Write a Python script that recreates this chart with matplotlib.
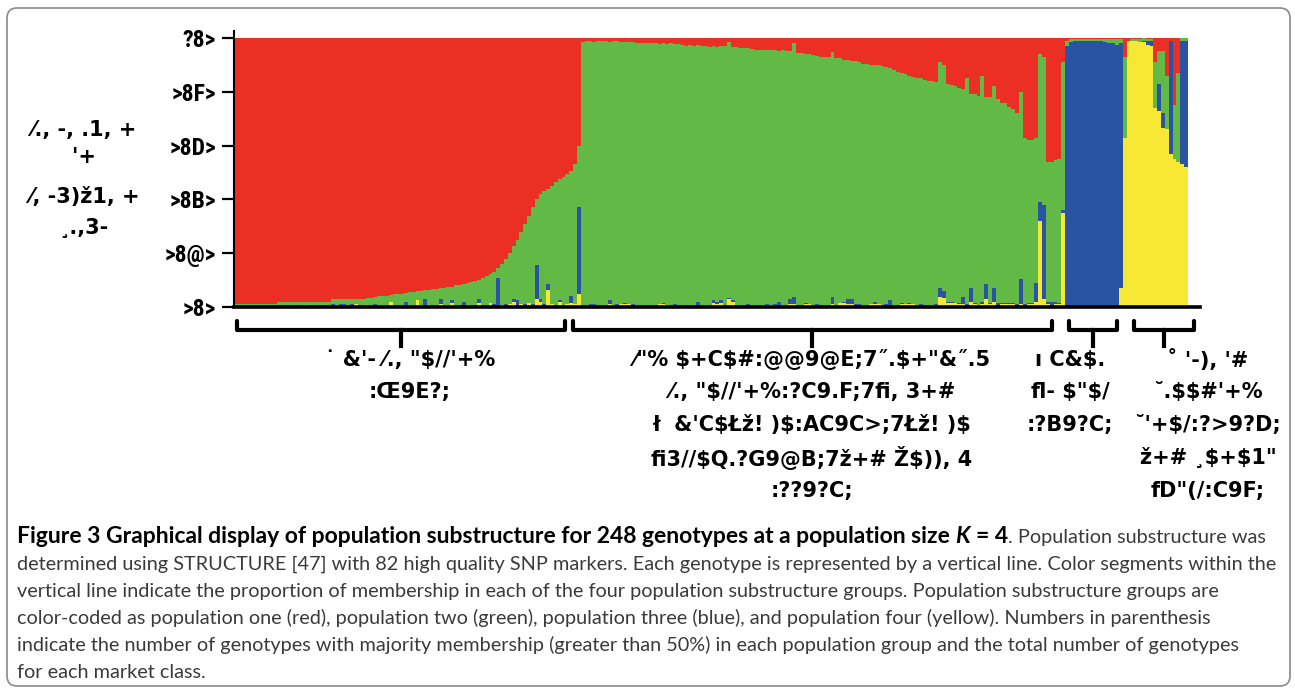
import matplotlib
matplotlib.use("Agg")
import numpy as np
import matplotlib.pyplot as plt
from matplotlib import font_manager
from matplotlib.font_manager import FontProperties
from matplotlib.patches import FancyBboxPatch
from matplotlib.lines import Line2D
import matplotlib.transforms as mtransforms

# ---- membership proportions per genotype (Q values) ----
# group 1: red majority (90 genotypes)
g1_yellow = [0, 0, 0, 0, 0, 0, .005, 0, 0, 0, 0,
             0, 0, 0, .005, 0, 0, 0, .006, 0, 0, .005, 0, 0, 0,
             0, .008, 0, .006, 0, 0, .01, 0, 0,
             .008, 0, 0, 0, .006, 0, .02, 0,
             0, 0, 0, .006, 0, .025, 0, 0, .008, 0,
             0, .01, 0, .008, .015, 0, 0, 0, .008,
             0, 0, .015, 0,
             0, .015, 0, 0, .008,
             0, .01, .02, 0, .01,
             0, .015, 0, .03,
             .02, 0, .065, .01, 0, .02,
             0, .01, .015, .01, .05]
g1_blue = [.005, 0, 0, .005, 0, 0, 0, 0, .005, 0, 0,
           0, .008, 0, 0, 0, .008, 0, 0, .008, 0, 0, 0, .006, 0,
           .01, 0, .01, .006, 0, .01, 0, .008, 0,
           0, 0, .01, 0, 0, 0, 0, 0,
           .006, 0, .02, 0, 0, 0, 0, .03, 0, .008,
           0, .02, 0, 0, .01, 0, .008, .02, 0,
           0, .008, .015, 0,
           .008, 0, .01, .107, 0,
           .01, 0, .01, .025, 0,
           .01, 0, .01, .125,
           .01, .01, .02, 0, .008, .005,
           0, 0, .025, 0, .32]
g1_green = [.005, .01, .01, .005, .01, .01, .005, .01, .005, .01, .01,
            .018, .01, .018, .013, .018, .01, .018, .012, .01, .018, .013, .018, .012, .018,
            .018, .02, .018, .016, .028, .018, .018, .02, .028,
            .027, .035, .028, .04, .034, .042, .025, .047,
            .042, .05, .032, .048, .056, .033, .06, .032, .056, .058,
            .068, .04, .072, .066, .051, .08, .074, .065, .08,
            .092, .089, .072, .108,
            .107, .107, .12, .038, .152,
            .17, .19, .195, .225, .27,
            .30, .325, .36, .245,
            .39, .42, .355, .44, .457, .45,
            .485, .485, .465, .52, .23]
g1_red = [.99] * 11 + [.982] * 14 + [.972] * 9 + \
         [.965, .965, .962, .96, .96, .958, .955, .953,
          .952, .95, .948, .946, .944, .942, .94, .938, .936, .934,
          .932, .93, .928, .926, .924, .92, .918, .915, .912,
          .908, .903, .898, .892,
          .885, .878, .87, .855, .84,
          .82, .80, .775, .75, .72,
          .69, .66, .63, .60,
          .58, .57, .56, .55, .535, .525,
          .515, .505, .495, .47, .40]

# group 2: green majority (126 genotypes)
g2_yellow = [0, 0, 0, 0, .005, 0, .005, .01, 0, .005, .01, .01, .01, .005,
             0, .005, 0, 0, .005, 0, .01, .01, .008, 0, .005, 0,
             .005, 0, .005, 0, .005, 0,
             .008, 0, .015, .012, .015, .005, .03, .02, 0,
             .005, 0, .005, 0,
             .005, 0, .008, .008, .008, .008, .005, .008, 0, .01, .01,
             0, .005, .01, .01, 0,
             .005, 0, .005, 0,
             .01,
             0, .015, .015, .01, .01, 0, .005,
             0, .005, .012, .012, .012, 0, .005, .005,
             0, .005, .01, .01, .01, .01,
             0, .005, 0, .005, 0, .008,
             .038, .035,
             .015, .015, .015, .01, .01,
             .005,
             .02, .01, .008,
             .01,
             .03, .01,
             .02,
             .005,
             .01, .01,
             .01, .01, .005,
             .01,
             .005, .01, .01, .02,
             .32, .03,
             .01, .005, .01, .01,
             .35]
g2_blue = [.005, .005, .01, .01, 0, .005, 0, .015, .005, .005, 0, .005, 0, .005,
           .005, 0, .005, .005, 0, .005, 0, .005, 0, .005, .005, .005,
           0, .008, 0, .005, .015, .005,
           0, .005, .01, .005, .01, 0, .005, .005, .005,
           0, .005, .005, .005,
           0, .008, 0, .005, 0, .005, .015, 0, .005, .02, .028,
           .005, 0, .005, 0, .005,
           .005, .008, 0, .005,
           .028,
           .005, 0, .005, .02, .02, .01, .005,
           .005, 0, 0, .005, 0, .005, .005, .02,
           .005, 0, .005, 0, .005, 0,
           .005, .005, .008, 0, .005, .005,
           .032, .025,
           .005, .005, 0, .005, .028,
           .005,
           .05, .005, 0,
           .01,
           .055, .005,
           .05,
           .01,
           .005, .005,
           .005, .005, .005,
           .095,
           .005, .005, .005, .07,
           .07, .35,
           .01, .012, .01, .005,
           .01]
g2_green = [.98, .983, .98, .976, .983, .985, .982, .96, .983, .98, .976, .97, .974, .976,
            .977, .975, .976, .975, .978, .975, .968, .965, .971, .975, .968, .972,
            .97, .964, .97, .965, .954, .967,
            .962, .963, .945, .95, .944, .965, .95, .943, .96,
            .958, .957, .953, .955,
            .952, .948, .947, .944, .946, .942, .933, .947, .947, .92, .942,
            .94, .941, .925, .93, .93,
            .922, .922, .925, .923,
            .91,
            .92, .91, .90, .89, .885, .905, .90,
            .90, .90, .888, .883, .886, .89, .883, .865,
            .875, .87, .855, .855, .845, .845,
            .845, .84, .837, .835, .835, .822,
            .84, .84,
            .81, .805, .805, .80, .772,
            .84,
            .72, .775, .777,
            .84,
            .695, .765,
            .75,
            .76,
            .745, .745,
            .73, .72, .71,
            .695,
            .62, .605, .605, .54,
            .55, .55,
            .52, .523, .525, .535,
            .55]
g2_red = [.015, .012, .01, .014, .012, .01, .013, .015, .012, .01, .014, .015, .016, .014,
          .018, .02, .019, .02, .017, .02, .022, .02, .021, .02, .022, .023,
          .025, .028, .025, .03, .026, .028,
          .03, .032, .03, .033, .031, .03, .015, .032, .035,
          .037, .038, .037, .04,
          .043, .044, .045, .043, .046, .045, .047, .045, .048, .05, .02,
          .055, .054, .06, .06, .065,
          .068, .07, .07, .072,
          .052,
          .075, .075, .08, .08, .085, .085, .09,
          .095, .095, .10, .10, .102, .105, .107, .11,
          .12, .125, .13, .135, .14, .145,
          .15, .15, .155, .16, .16, .165,
          .09, .10,
          .17, .175, .18, .185, .19,
          .15,
          .21, .21, .215,
          .14,
          .22, .22,
          .18,
          .225,
          .24, .24,
          .255, .265, .28,
          .20,
          .37, .38, .38, .37,
          .06, .07,
          .46, .46, .455, .45,
          .09]

# group 3: blue majority (15 genotypes)
g3_yellow = [0, 0, 0, 0, 0, .005, 0, 0, 0, 0, 0, 0, 0, 0, .07]
g3_blue = [.97, .985, .99, .99, .99, .985, .99, .99, .99, .988, .985, .98, .98, .975, .91]
g3_green = [.02, .01, .005, .005, .005, .005, .005, .005, .005, .007, .01, .015, .015, .02, .015]
g3_red = [.01, .005, .005, .005, .005, .005, .005, .005, .005, .005, .005, .005, .005, .005, .005]

# group 4: yellow majority (17 genotypes)
g4_yellow = [.63, .99, .99, .99, .985, .985, .975, .97, .74, .73, .665, .66, .57, .55, .54, .53, .52]
g4_blue = [0, 0, 0, 0, 0, .005, .015, .02, 0, .10, .055, 0, .42, 0, 0, .46, .47]
g4_green = [.30, 0, .005, .005, .01, .01, .005, .005, .17, .12, .23, .20, 0, .20, .33, .01, .01]
g4_red = [.07, .01, .005, .005, .005, 0, .005, .005, .09, .05, .05, .14, .01, .25, .13, 0, 0]

ytick_values = [0.0, 0.2, 0.4, 0.6, 0.8, 1.0]
ytick_labels = [">8>", ">8@>", ">8B>", ">8D>", ">8F>", "?8>"]
ylabel_lines = ["\u2044., -, .1, +", "'+", "\u2044, -3)\u017e1, +", "\u00b8.,3-"]
group_labels = [
    ["\u02d9 &'- \u2044., \"$//'+%", ":\u01529E?;"],
    ["\u2044\"% $+C$#:@@9@E;7\u02dd.$+\"&\u02dd.5",
     "\u2044., \"$//'+%:?C9.F;7\ufb01, 3+#",
     "\u0142  &'C$\u0141\u017e! )$:AC9C>;7\u0141\u017e! )$",
     "\ufb013//$Q.?G9@B;7\u017e+# \u017d$)), 4",
     ":??9?C;"],
    ["\u0131 C&$.", "\ufb02- $\"$/", ":?B9?C;"],
    ["\u02da '-), '#", "\u02d8.$$#'+%", "\u02d8'+$/:?>9?D;", "\u017e+# \u00b8$+$1\"", "fD\"(/:C9F;"],
]
caption_bold = [
    ("Figure 3 Graphical display of population substructure for 248 genotypes at a population size", "normal"),
    (" ", "normal"),
    ("K", "italic"),
    (" ", "normal"),
    ("= 4", "normal"),
]
caption_tail = ". Population substructure was"
caption_rest = [
    "determined using STRUCTURE [47] with 82 high quality SNP markers. Each genotype is represented by a vertical line. Color segments within the",
    "vertical line indicate the proportion of membership in each of the four population substructure groups. Population substructure groups are",
    "color-coded as population one (red), population two (green), population three (blue), and population four (yellow). Numbers in parenthesis",
    "indicate the number of genotypes with majority membership (greater than 50%) in each population group and the total number of genotypes",
    "for each market class.",
]

RED, GREEN, BLUE, YELLOW = "#ec2f25", "#63b946", "#2a53a4", "#f6e835"


def main():
    W, H = 1295, 689
    fig = plt.figure(figsize=(W / 100, H / 100), dpi=100)

    avail = {f.name for f in font_manager.fontManager.ttflist}
    cap_font = next((f for f in ["Lato", "Roboto", "Open Sans"] if f in avail), "DejaVu Sans")
    tick_font = next((f for f in ["Roboto Condensed", "Liberation Sans Narrow"] if f in avail),
                     "DejaVu Sans")

    # full-figure overlay in pixel units for text and frame
    ov = fig.add_axes([0, 0, 1, 1])
    ov.set_xlim(0, W)
    ov.set_ylim(H, 0)
    ov.axis("off")
    ov.add_patch(FancyBboxPatch((7, 8), 1283, 678, boxstyle="round,pad=0,rounding_size=10",
                                facecolor="none", edgecolor="#8a8a8a", linewidth=1.2))

    ax = fig.add_axes([234 / W, 1 - 307 / H, 966 / W, 276 / H])
    yellow = np.array(g1_yellow + g2_yellow + g3_yellow + g4_yellow)
    blue = np.array(g1_blue + g2_blue + g3_blue + g4_blue)
    green = np.array(g1_green + g2_green + g3_green + g4_green)
    red = np.array(g1_red + g2_red + g3_red + g4_red)
    x = np.arange(len(red))
    bottom = np.zeros(len(red))
    for vals, col in [(yellow, YELLOW), (blue, BLUE), (green, GREEN), (red, RED)]:
        ax.bar(x, vals, width=1.0, bottom=bottom, align="edge", color=col,
               linewidth=0, antialiased=False)
        bottom = bottom + vals

    ax.set_xlim(-0.26, 251.12)
    ax.set_ylim(0, 1.026)
    for s in ["top", "right"]:
        ax.spines[s].set_visible(False)
    ax.spines["bottom"].set_linewidth(2.6)
    ax.spines["left"].set_linewidth(1.5)
    ax.set_xticks([])
    ax.set_yticks(ytick_values)
    ax.set_yticklabels(ytick_labels, fontsize=17, fontweight="bold", family=tick_font)
    ax.tick_params(axis="y", length=9, width=1.6, direction="out", pad=4)
    for t in ax.get_yticklabels():
        t.set_parse_math(False)

    bold = dict(fontweight="bold", color="black", fontsize=15, family="DejaVu Sans",
                parse_math=False)
    # y label
    for ly, line in zip([130, 157, 197, 228], ylabel_lines):
        ov.text(84, ly, line, ha="center", va="center", **bold)

    # group brackets
    trans = mtransforms.blended_transform_factory(ax.transData, ax.transAxes)
    spans = [(0.5, 86.0), (88.0, 212.5), (217.0, 229.5), (234.0, 249.5)]
    y_top, y_bar, y_stem = -0.05, -0.083, -0.14
    for l, r in spans:
        c = (l + r) / 2
        ax.add_line(Line2D([l, l, r, r], [y_top, y_bar, y_bar, y_top], transform=trans,
                           color="black", linewidth=3, clip_on=False,
                           solid_joinstyle="round", solid_capstyle="round"))
        ax.add_line(Line2D([c, c], [y_bar, y_stem], transform=trans, color="black",
                           linewidth=3, clip_on=False))

    # group labels
    centers = [410, 812, 1070, 1208]
    rows = [360, 392, 425, 458, 491]
    for cx, lines in zip(centers, group_labels):
        for ry, line in zip(rows, lines):
            ov.text(cx, ry, line, ha="center", va="center", **bold)

    # caption
    rend = fig.canvas.get_renderer()

    def width(s, size, weight, style):
        fp = FontProperties(family=cap_font, size=size, weight=weight, style=style)
        w, _, _ = rend.get_text_width_height_descent(s, fp, ismath=False)
        return w

    def piece_width(s, size, weight, style):
        if s.strip() == "":
            return width("a a", size, weight, style) - width("aa", size, weight, style)
        return width(s, size, weight, style)

    base = 12.0
    reg_size = base * 1255 / width(caption_rest[0], base, "normal", "normal")
    bold_total = sum(piece_width(s, base, "bold", st) for s, st in caption_bold)
    bold_size = base * 985 / bold_total

    x0 = 17
    cy = 543
    xx = x0
    for s, st in caption_bold:
        if s.strip():
            ov.text(xx, cy, s, ha="left", va="baseline", fontsize=bold_size, fontweight="bold",
                    fontstyle=st, family=cap_font, parse_math=False, color="black")
        xx += piece_width(s, bold_size, "bold", st)
    ov.text(xx, cy, caption_tail, ha="left", va="baseline", fontsize=reg_size,
            family=cap_font, color="#3a3a3a", parse_math=False)
    for k, line in enumerate(caption_rest):
        ov.text(x0, cy + 27 * (k + 1), line, ha="left", va="baseline", fontsize=reg_size,
                family=cap_font, color="#3a3a3a", parse_math=False)

    fig.savefig("out.png", dpi=100)


if __name__ == "__main__":
    main()
